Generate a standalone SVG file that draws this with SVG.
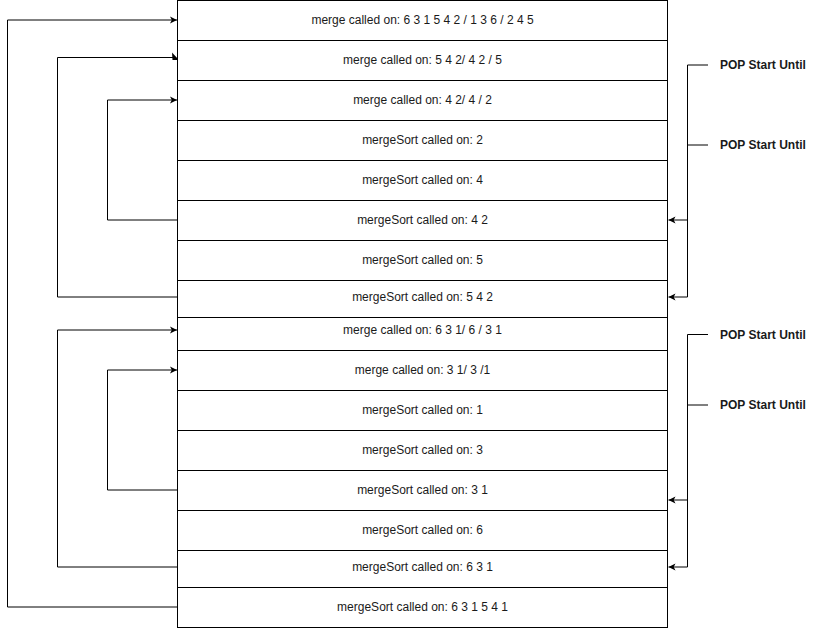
<svg xmlns="http://www.w3.org/2000/svg" width="818" height="628" viewBox="0 0 818 628">
<style>
.box{fill:#fff;stroke:#000;stroke-width:1}
.lbl{font-family:"Liberation Sans",Arial,sans-serif;font-size:12px;fill:#1a1a1a;text-anchor:middle;dominant-baseline:central}
.pop{font-family:"Liberation Sans",Arial,sans-serif;font-size:12px;font-weight:bold;fill:#1a1a1a;dominant-baseline:central}
.con{fill:none;stroke:#000;stroke-width:1}
</style>
<defs>
<marker id="arr" markerWidth="8" markerHeight="8" refX="7" refY="4" orient="auto" markerUnits="userSpaceOnUse">
<path d="M0,0.5 L7,4 L0,7.5 L1.8,4 Z" fill="#000"/>
</marker>
</defs>
<rect width="818" height="628" fill="#fff"/>
<g id="connectors">
<path class="con" d="M177.5,607 H7.5 V20 H177" marker-end="url(#arr)"/>
<path class="con" d="M177.5,297 H57.5 V57.5 H174"/>
<path d="M172,52.5 L179,60 L172.5,60 Z" fill="#000"/>
<path class="con" d="M177.5,220 H107.5 V100 H177" marker-end="url(#arr)"/>
<path class="con" d="M177.5,567 H57.5 V330 H177" marker-end="url(#arr)"/>
<path class="con" d="M177.5,490 H107.5 V370 H177" marker-end="url(#arr)"/>
<path class="con" d="M708,65 H687.5 V297 H668.5" marker-end="url(#arr)"/>
<path class="con" d="M708,145 H687.5"/>
<path class="con" d="M687.5,220 H668.5" marker-end="url(#arr)"/>
<path class="con" d="M708,334.5 H687.5 V567 H668.5" marker-end="url(#arr)"/>
<path class="con" d="M708,405 H687.5"/>
<path class="con" d="M687.5,500 H668.5" marker-end="url(#arr)"/>
</g>
<g id="n1"><rect class="box" x="177.5" y="0.5" width="490" height="40"/><text class="lbl" x="422.5" y="20">merge called on: 6 3 1 5 4 2 / 1 3 6 / 2 4 5</text></g>
<g id="n2"><rect class="box" x="177.5" y="40.5" width="490" height="40"/><text class="lbl" x="422.5" y="60">merge called on: 5 4 2/ 4 2 / 5</text></g>
<g id="n3"><rect class="box" x="177.5" y="80.5" width="490" height="40"/><text class="lbl" x="422.5" y="100">merge called on: 4 2/ 4 / 2</text></g>
<g id="n4"><rect class="box" x="177.5" y="120.5" width="490" height="40"/><text class="lbl" x="422.5" y="140">mergeSort called on: 2</text></g>
<g id="n5"><rect class="box" x="177.5" y="160.5" width="490" height="40"/><text class="lbl" x="422.5" y="180">mergeSort called on: 4</text></g>
<g id="n6"><rect class="box" x="177.5" y="200.5" width="490" height="40"/><text class="lbl" x="422.5" y="220">mergeSort called on: 4 2</text></g>
<g id="n7"><rect class="box" x="177.5" y="240.5" width="490" height="40"/><text class="lbl" x="422.5" y="260">mergeSort called on: 5</text></g>
<g id="n8"><rect class="box" x="177.5" y="280.5" width="490" height="37"/><text class="lbl" x="422.5" y="297">mergeSort called on: 5 4 2</text></g>
<g id="n9"><rect class="box" x="177.5" y="317.5" width="490" height="33"/><text class="lbl" x="422.5" y="330">merge called on: 6 3 1/ 6 / 3 1</text></g>
<g id="n10"><rect class="box" x="177.5" y="350.5" width="490" height="40"/><text class="lbl" x="422.5" y="370">merge called on: 3 1/ 3 /1</text></g>
<g id="n11"><rect class="box" x="177.5" y="390.5" width="490" height="40"/><text class="lbl" x="422.5" y="410">mergeSort called on: 1</text></g>
<g id="n12"><rect class="box" x="177.5" y="430.5" width="490" height="40"/><text class="lbl" x="422.5" y="450">mergeSort called on: 3</text></g>
<g id="n13"><rect class="box" x="177.5" y="470.5" width="490" height="40"/><text class="lbl" x="422.5" y="490">mergeSort called on: 3 1</text></g>
<g id="n14"><rect class="box" x="177.5" y="510.5" width="490" height="40"/><text class="lbl" x="422.5" y="530">mergeSort called on: 6</text></g>
<g id="n15"><rect class="box" x="177.5" y="550.5" width="490" height="37"/><text class="lbl" x="422.5" y="567">mergeSort called on: 6 3 1</text></g>
<g id="n16"><rect class="box" x="177.5" y="587.5" width="490" height="40"/><text class="lbl" x="422.5" y="607">mergeSort called on: 6 3 1 5 4 1</text></g>
<g id="pop1"><text class="pop" x="720" y="65">POP Start Until</text></g>
<g id="pop2"><text class="pop" x="720" y="145">POP Start Until</text></g>
<g id="pop3"><text class="pop" x="720" y="335">POP Start Until</text></g>
<g id="pop4"><text class="pop" x="720" y="405">POP Start Until</text></g>
</svg>
